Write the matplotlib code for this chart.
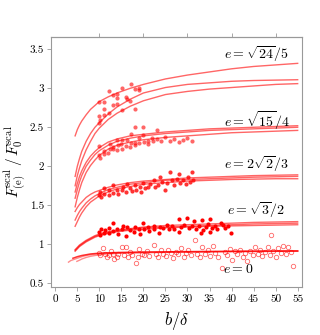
import numpy as np
import matplotlib
matplotlib.use('Agg')
import matplotlib.pyplot as plt

plt.rcParams['font.family'] = 'serif'
plt.rcParams['font.serif'] = ['cmr10', 'DejaVu Serif']
plt.rcParams['mathtext.fontset'] = 'cm'
plt.rcParams['axes.formatter.use_mathtext'] = True

# ---- simulation points (b/delta, F_e/F_0) ----
pts_24_5 = [(10.0, 2.82), (11.1, 2.82), (12.1, 2.97), (13.1, 2.92), (14.1, 2.93), (15.1, 3.01),
            (17.2, 3.06), (18.0, 2.99), (19.1, 3.00), (13.1, 2.78), (14.0, 2.80), (15.1, 2.72),
            (17.0, 2.84), (18.1, 2.73), (16.1, 2.89), (16.2, 2.86), (11.0, 2.74), (10.0, 2.64),
            (11.0, 2.66), (12.2, 2.68), (10.2, 2.59), (9.9, 2.56), (18.9, 2.98), (14.0, 2.88)]

pts_15_4 = [(10.0, 2.26), (10.0, 2.14), (10.2, 2.10), (11.1, 2.16), (11.0, 2.19), (12.5, 2.29),
            (12.4, 2.22), (12.0, 2.17), (13.2, 2.25), (13.1, 2.22), (14.1, 2.34), (14.0, 2.21),
            (14.2, 2.27), (15.1, 2.34), (15.1, 2.22), (15.0, 2.28), (16.3, 2.34), (16.0, 2.26),
            (17.2, 2.30), (17.2, 2.42), (17.0, 2.25), (18.1, 2.51), (18.1, 2.30), (18.0, 2.27),
            (19.1, 2.30), (19.0, 2.36), (20.0, 2.50), (20.0, 2.40), (20.1, 2.31), (21.1, 2.32),
            (21.0, 2.28), (22.1, 2.32), (22.0, 2.36), (23.1, 2.46), (23.1, 2.35), (24.0, 2.32),
            (25.0, 2.37), (26.0, 2.33), (27.0, 2.35), (28.0, 2.31), (29.0, 2.34), (30.0, 2.36),
            (31.0, 2.33)]

pts_2r2_3 = [(10.0, 1.63), (10.1, 1.67), (10.3, 1.60), (11.1, 1.72), (11.0, 1.65), (12.1, 1.63),
             (12.3, 1.70), (13.2, 1.76), (13.0, 1.66), (14.0, 1.70), (14.3, 1.64), (15.1, 1.69),
             (15.3, 1.74), (16.3, 1.77), (16.0, 1.67), (17.0, 1.72), (17.5, 1.68), (18.1, 1.76),
             (18.4, 1.70), (19.2, 1.74), (19.5, 1.67), (20.0, 1.79), (20.3, 1.72), (21.1, 1.73),
             (21.4, 1.77), (22.3, 1.82), (22.6, 1.74), (23.7, 1.86), (23.4, 1.76), (24.3, 1.80),
             (24.9, 1.70), (25.4, 1.78), (26.1, 1.93), (26.5, 1.82), (27.0, 1.76), (27.6, 1.84),
             (28.0, 1.90), (28.4, 1.79), (29.0, 1.83), (29.6, 1.77), (30.2, 1.86), (30.6, 1.80),
             (31.0, 1.92), (31.2, 1.83)]

pts_3_2 = [(10.0, 1.16), (10.1, 1.12), (10.3, 1.19), (11.0, 1.14), (11.2, 1.18), (12.1, 1.21),
           (12.3, 1.15), (13.2, 1.27), (13.0, 1.17), (14.0, 1.19), (14.2, 1.13), (15.1, 1.19),
           (15.3, 1.23), (16.3, 1.22), (16.0, 1.10), (17.0, 1.18), (17.8, 1.16), (18.2, 1.22),
           (19.1, 1.19), (19.3, 1.13), (20.0, 1.27), (20.2, 1.20), (21.0, 1.22), (21.3, 1.17),
           (22.3, 1.24), (22.5, 1.20), (23.7, 1.22), (23.5, 1.15), (24.5, 1.21), (25.3, 1.25),
           (25.8, 1.19), (26.5, 1.23), (27.0, 1.20), (28.0, 1.32), (28.0, 1.16), (28.5, 1.22),
           (29.2, 1.25), (29.9, 1.33), (30.3, 1.21), (31.0, 1.24), (31.4, 1.30), (32.0, 1.20),
           (32.5, 1.23), (33.0, 1.14), (33.2, 1.31), (33.6, 1.18), (34.2, 1.22), (34.6, 1.26),
           (35.0, 1.16), (35.1, 1.32), (35.6, 1.21), (36.3, 1.24), (36.8, 1.20), (37.5, 1.27),
           (38.1, 1.25), (38.6, 1.21), (39.2, 1.23), (39.8, 1.15)]

pts_0 = [(10.0, 0.89), (10.2, 0.86), (10.8, 0.95), (11.3, 0.88), (11.8, 0.84), (12.1, 0.86),
         (12.6, 0.91), (13.0, 0.87), (13.4, 0.81), (13.9, 0.84), (14.3, 0.88), (15.1, 0.97),
         (15.5, 0.86), (16.0, 0.97), (16.4, 0.84), (16.9, 0.90), (17.4, 0.86), (18.3, 0.76),
         (18.7, 0.83), (19.1, 0.94), (19.6, 0.88), (20.2, 0.86), (20.7, 0.91), (21.3, 0.85),
         (22.3, 0.99), (22.8, 0.87), (23.4, 0.84), (24.0, 0.92), (24.5, 0.88), (25.1, 0.85),
         (25.6, 0.93), (26.2, 0.89), (26.8, 0.82), (27.3, 0.90), (27.9, 0.87), (28.5, 0.95),
         (29.1, 0.84), (29.6, 0.89), (30.2, 0.93), (30.8, 0.86), (31.7, 1.05), (32.2, 0.88),
         (32.8, 0.83), (33.4, 0.96), (34.0, 0.87), (34.6, 0.92), (35.2, 0.85), (35.8, 0.98),
         (36.3, 0.89), (36.9, 0.83), (37.9, 0.69), (38.4, 0.90), (39.0, 0.86), (39.6, 0.94),
         (40.2, 0.80), (40.8, 0.91), (41.3, 0.87), (41.9, 0.93), (42.5, 0.84), (43.0, 0.89),
         (43.6, 0.78), (44.2, 0.91), (44.8, 0.86), (45.3, 0.96), (45.9, 0.88), (46.5, 0.93),
         (47.0, 0.85), (47.6, 0.90), (48.2, 0.97), (48.7, 0.86), (49.0, 1.12), (49.5, 0.91),
         (50.1, 0.84), (50.6, 0.95), (51.2, 0.89), (51.7, 0.98), (52.3, 0.87), (52.8, 0.96),
         (53.4, 0.90), (54.0, 0.72)]

# ---- fitted curves, sampled off the figure ----
cx = [4.5, 5, 5.5, 6, 7, 8, 9, 10, 12, 14, 17, 20, 25, 30, 35, 40, 45, 50, 55]
curves_24_5 = [
    [2.39, 2.47, 2.53, 2.58, 2.66, 2.73, 2.78, 2.83, 2.89, 2.94, 3.00, 3.05, 3.12, 3.17, 3.21, 3.25, 3.28, 3.30, 3.32],
    [1.87, 2.00, 2.10, 2.19, 2.32, 2.42, 2.50, 2.56, 2.67, 2.76, 2.86, 2.94, 3.01, 3.05, 3.07, 3.09, 3.10, 3.105, 3.11],
    [1.75, 1.88, 1.98, 2.07, 2.21, 2.32, 2.42, 2.49, 2.60, 2.68, 2.77, 2.84, 2.92, 2.96, 2.99, 3.01, 3.03, 3.05, 3.06],
]
curves_15_4 = [
    [1.67, 1.78, 1.87, 1.94, 2.05, 2.13, 2.19, 2.24, 2.31, 2.35, 2.39, 2.41, 2.44, 2.46, 2.48, 2.49, 2.50, 2.51, 2.52],
    [1.59, 1.70, 1.80, 1.88, 2.00, 2.08, 2.15, 2.20, 2.27, 2.32, 2.36, 2.39, 2.42, 2.44, 2.46, 2.47, 2.48, 2.49, 2.50],
    [1.48, 1.60, 1.70, 1.79, 1.92, 2.01, 2.08, 2.14, 2.22, 2.27, 2.31, 2.34, 2.37, 2.39, 2.41, 2.43, 2.44, 2.45, 2.46],
]
curves_2r2_3 = [
    [1.42, 1.47, 1.51, 1.54, 1.60, 1.64, 1.67, 1.69, 1.73, 1.76, 1.79, 1.81, 1.83, 1.85, 1.86, 1.87, 1.88, 1.885, 1.89],
    [1.31, 1.37, 1.42, 1.46, 1.53, 1.58, 1.62, 1.65, 1.70, 1.73, 1.77, 1.79, 1.82, 1.83, 1.84, 1.85, 1.86, 1.865, 1.87],
    [1.23, 1.29, 1.35, 1.40, 1.48, 1.54, 1.58, 1.62, 1.67, 1.71, 1.74, 1.77, 1.79, 1.81, 1.82, 1.83, 1.835, 1.84, 1.84],
]
curves_3_2 = [
    [0.93, 0.96, 0.99, 1.01, 1.05, 1.08, 1.11, 1.13, 1.16, 1.18, 1.20, 1.22, 1.24, 1.25, 1.26, 1.27, 1.28, 1.285, 1.29],
    [0.92, 0.95, 0.98, 1.00, 1.04, 1.07, 1.10, 1.12, 1.15, 1.17, 1.19, 1.21, 1.22, 1.23, 1.24, 1.25, 1.26, 1.265, 1.27],
    [0.91, 0.94, 0.97, 0.99, 1.03, 1.06, 1.09, 1.11, 1.14, 1.16, 1.18, 1.19, 1.21, 1.22, 1.23, 1.235, 1.24, 1.245, 1.25],
]
e0_cx1 = [3, 3.5, 4, 5, 6, 7, 8, 10, 12, 15, 20, 25, 30, 40, 55]
e0_cy1 = [0.77, 0.79, 0.80, 0.82, 0.84, 0.855, 0.865, 0.88, 0.885, 0.89, 0.895, 0.90, 0.90, 0.905, 0.91]
e0_cx2 = [4.9, 5.5, 6, 7, 8, 9, 10, 12, 15, 20, 30, 40, 55]
e0_cy2 = [0.78, 0.795, 0.81, 0.83, 0.845, 0.855, 0.865, 0.875, 0.885, 0.89, 0.90, 0.905, 0.91]
e0_cx3 = [4, 5, 6, 7, 8, 10, 12, 15, 20, 30, 40, 55]
e0_cy3 = [0.82, 0.84, 0.855, 0.865, 0.875, 0.885, 0.89, 0.895, 0.90, 0.905, 0.91, 0.915]

labels = [r'$e=\sqrt{24}/5$', r'$e=\sqrt{15}/4$', r'$e=2\sqrt{2}/3$', r'$e=\sqrt{3}/2$', r'$e=0$']
label_pos = [(38.3, 3.44), (38.3, 2.58), (38.3, 2.03), (39.0, 1.44), (38.0, 0.67)]

fig = plt.figure(figsize=(3.2, 3.35), dpi=100)
ax = fig.add_axes([0.159, 0.143, 0.785, 0.747])

lc = (1.0, 0.0, 0.0, 0.6)
for curves in [curves_24_5, curves_15_4, curves_2r2_3, curves_3_2]:
    for cy in curves:
        ax.plot(cx, cy, color=lc, lw=1.0)
ax.plot(e0_cx1, e0_cy1, color=(1, 0, 0, 0.45), lw=1.0)
ax.plot(e0_cx2, e0_cy2, color=(1, 0, 0, 0.45), lw=1.0)
ax.plot(e0_cx3, e0_cy3, color=(1, 0, 0, 0.8), lw=1.1)

for pts, a in [(pts_24_5, 0.6), (pts_15_4, 0.6), (pts_2r2_3, 0.8), (pts_3_2, 1.0)]:
    p = np.array(pts)
    ax.plot(p[:, 0], p[:, 1], 'o', ms=3.0, mec='none', mfc=(1, 0, 0, a))
p = np.array(pts_0)
ax.plot(p[:, 0], p[:, 1], 'o', ms=3.2, mfc='none', mec=(1, 0, 0, 0.6), mew=0.6)

for t, (x, y) in zip(labels, label_pos):
    ax.text(x, y, t, fontsize=10, ha='left', va='center')

ax.set_xlim(-1, 56)
ax.set_ylim(0.45, 3.66)
xt = np.arange(0, 56, 5)
ax.set_xticks(xt)
ax.set_xticklabels([str(v) for v in xt])
yt = [0.5, 1, 1.5, 2, 2.5, 3, 3.5]
ax.set_yticks(yt)
ax.set_yticklabels(['0.5', '1', '1.5', '2', '2.5', '3', '3.5'])
ax.tick_params(direction='out', length=3, width=0.6, color='#999999', labelsize=8, pad=2)
for s in ax.spines.values():
    s.set_color('#999999')
    s.set_linewidth(0.8)

top = ax.secondary_xaxis('top')
top.set_xticks([10, 20, 30, 40, 50])
top.set_xticklabels([])
top.tick_params(direction='out', length=3, width=0.6, color='#999999')
top.spines['top'].set_color('#999999')

ax.set_xlabel(r'$b/\delta$', fontsize=12)
ax.xaxis.set_label_coords(0.5, -0.09)
ax.set_ylabel(r'$F^{\rm scal}_{\rm (e)}\,/\,F^{\rm scal}_0$', fontsize=11)
ax.yaxis.set_label_coords(-0.09, 0.5)

fig.savefig('out.png', dpi=100)
